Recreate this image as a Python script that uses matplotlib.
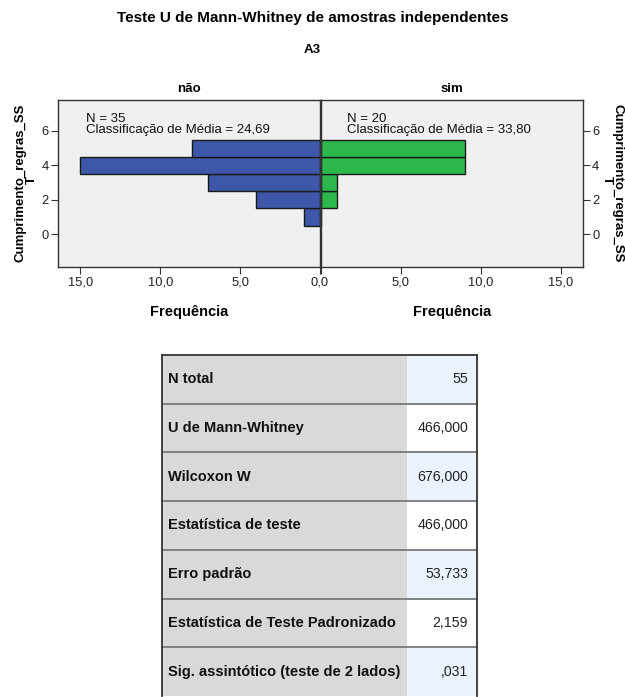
import matplotlib
matplotlib.use("Agg")
import matplotlib.pyplot as plt
from matplotlib.patches import Rectangle

plt.rcParams['font.family'] = ['Liberation Sans', 'DejaVu Sans']

# Histogram data (bin centres of Cumprimento_regras_SS_T, counts per group)
bin_centers = [1, 2, 3, 4, 5]
counts_nao = [1, 4, 7, 15, 8]
counts_sim = [0, 1, 1, 9, 9]
group_labels = ["não", "sim"]
n_groups = [35, 20]
mean_ranks = ["24,69", "33,80"]
x_ticks = [0, 5, 10, 15]
x_tick_labels = ["0,0", "5,0", "10,0", "15,0"]
y_ticks = [0, 2, 4, 6]

# Summary table
table_labels = ["N total", "U de Mann-Whitney", "Wilcoxon W", "Estatística de teste",
                "Erro padrão", "Estatística de Teste Padronizado",
                "Sig. assintótico (teste de 2 lados)"]
table_values = ["55", "466,000", "676,000", "466,000", "53,733", "2,159", ",031"]

W, H = 625, 697
fig = plt.figure(figsize=(W / 100, H / 100), dpi=100)
fig.patch.set_facecolor("white")

blue = "#3f57a9"
green = "#2db84d"
bg = "#f0f0f0"
tick_fs = 9.3

def fx(px):
    return px / W

def fy(py):
    return 1 - py / H

ax_top, ax_bot = 100, 267
axL = fig.add_axes([fx(58), fy(ax_bot), fx(320) - fx(58), fy(ax_top) - fy(ax_bot)])
axR = fig.add_axes([fx(321), fy(ax_bot), fx(583) - fx(321), fy(ax_top) - fy(ax_bot)])

xmax = 16.4
ylim = (-1.9, 7.8)
for ax, counts, color in [(axL, counts_nao, blue), (axR, counts_sim, green)]:
    ax.set_facecolor(bg)
    ax.barh(bin_centers, counts, height=1.0, color=color, edgecolor="#1a1a1a",
            linewidth=1.0, zorder=2)
    ax.set_ylim(*ylim)
    ax.set_xticks(x_ticks)
    ax.set_xticklabels(x_tick_labels, fontsize=tick_fs, color="#222222")
    ax.set_yticks(y_ticks)
    ax.set_yticklabels([str(v) for v in y_ticks], fontsize=tick_fs, color="#222222")
    ax.tick_params(axis="both", length=5, width=0.8, color="#333333", pad=1.5)
    for s in ax.spines.values():
        s.set_color("#333333")
        s.set_linewidth(1.0)

axL.set_xlim(xmax, 0)
axR.set_xlim(0, xmax)
axR.yaxis.tick_right()
axR.get_xticklabels()[0].set_visible(False)

axL.set_title(group_labels[0], fontsize=9.5, fontweight="bold", pad=6)
axR.set_title(group_labels[1], fontsize=9.5, fontweight="bold", pad=6)

# x-axis captions
fig.text(fx(189), fy(312), "Frequência", ha="center", va="center",
         fontsize=10.5, fontweight="bold")
fig.text(fx(452), fy(312), "Frequência", ha="center", va="center",
         fontsize=10.5, fontweight="bold")

# y-axis captions (variable name wrapped onto two lines)
ylab_fs = 9.5
fig.text(fx(21), fy(183), "Cumprimento_regras_SS", rotation=90, ha="center",
         va="center", fontsize=ylab_fs, fontweight="bold")
fig.text(fx(32), fy(180), "T", rotation=90, ha="center", va="center",
         fontsize=ylab_fs, fontweight="bold")
fig.text(fx(618), fy(183), "Cumprimento_regras_SS", rotation=270, ha="center",
         va="center", fontsize=ylab_fs, fontweight="bold")
fig.text(fx(607), fy(180), "T", rotation=270, ha="center", va="center",
         fontsize=ylab_fs, fontweight="bold")

for ax, x0px, n, mr in [(axL, 86, n_groups[0], mean_ranks[0]),
                         (axR, 347, n_groups[1], mean_ranks[1])]:
    fig.text(fx(x0px), fy(113), f"N = {n}\nClassificação de Média = {mr}",
             fontsize=9.5, va="top", ha="left", linespacing=0.88,
             color="#111111", zorder=5)

fig.text(0.5, fy(18), "Teste U de Mann-Whitney de amostras independentes",
         ha="center", va="center", fontsize=11, fontweight="bold")
fig.text(0.5, fy(50), "A3", ha="center", va="center", fontsize=9.5, fontweight="bold")

# Summary table drawn in pixel coordinates
tab = fig.add_axes([0, 0, 1, 1], zorder=-1)
tab.set_xlim(0, W)
tab.set_ylim(H, 0)
tab.axis("off")
x0, xm, x1 = 162, 407, 477
y0, rh = 355, 48.7
for i, (lab, val) in enumerate(zip(table_labels, table_values)):
    top = y0 + i * rh
    tab.add_patch(Rectangle((x0, top), xm - x0, rh, facecolor="#d9d9d9", edgecolor="none"))
    vc = "#eaf3fd" if i % 2 == 0 else "white"
    tab.add_patch(Rectangle((xm, top), x1 - xm, rh, facecolor=vc, edgecolor="none"))
    if i > 0:
        tab.plot([x0, x1], [top, top], color="#7a7a7a", lw=1.3)
    tab.text(x0 + 6, top + rh / 2, lab, fontsize=10.5, fontweight="bold",
             ha="left", va="center", color="#111111")
    tab.text(x1 - 9, top + rh / 2, val, fontsize=10.2, ha="right", va="center",
             color="#222222")
bottom = y0 + len(table_labels) * rh
tab.plot([x0, x1], [y0, y0], color="#333333", lw=1.3)
tab.plot([x0, x0], [y0, bottom], color="#333333", lw=1.3)
tab.plot([x1, x1], [y0, bottom], color="#333333", lw=1.3)

fig.savefig("out.png", dpi=100)
